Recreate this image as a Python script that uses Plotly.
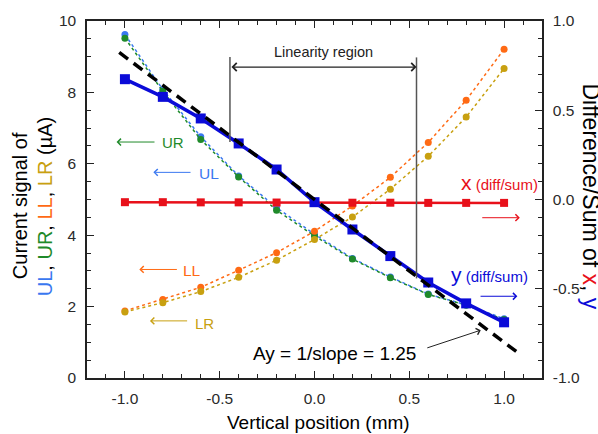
import plotly.graph_objects as go

# Vertical beam position scan (mm)
position = [-1.0, -0.8, -0.6, -0.4, -0.2, 0.0, 0.2, 0.4, 0.6, 0.8, 1.0]

# Electrode currents (uA)
ul_current = [9.62, 8.08, 6.76, 5.66, 4.77, 4.03, 3.35, 2.83, 2.35, 2.05, 1.66]
ur_current = [9.52, 8.03, 6.68, 5.63, 4.70, 3.98, 3.33, 2.81, 2.34, 2.04, 1.64]
ll_current = [1.88, 2.20, 2.54, 3.02, 3.51, 4.11, 4.82, 5.62, 6.60, 7.78, 9.21]
lr_current = [1.85, 2.11, 2.42, 2.82, 3.30, 3.88, 4.51, 5.29, 6.21, 7.31, 8.67]

# Normalised difference/sum signals
x_diff_sum = [-0.015, -0.015, -0.016, -0.016, -0.017, -0.017, -0.018, -0.018, -0.019, -0.019, -0.019]
y_diff_sum = [0.674, 0.575, 0.454, 0.314, 0.168, -0.015, -0.168, -0.317, -0.465, -0.582, -0.688]

# Linear fit through the central region: slope = 1/Ay
ay_factor = 1.25
fit_x = [-1.03, 1.09]
fit_y = [-xv / ay_factor for xv in fit_x]

# Linearity region limits (mm)
lin_left, lin_right = -0.446, 0.538

# Axis ticks
x_tick_vals = [-1.0, -0.5, 0.0, 0.5, 1.0]
x_tick_text = ["-1.0", "-0.5", "0.0", "0.5", "1.0"]
y2_tick_vals = [-1.0, -0.5, 0.0, 0.5, 1.0]
y2_tick_text = ["-1.0", "-0.5", "0.0", "0.5", "1.0"]

C_UL = "#3a78f0"
C_UR = "#1f8a2a"
C_LL = "#ff6a14"
C_LR = "#c8a010"
C_X = "#e8101a"
C_Y = "#0b0bd8"
FONT = "Liberation Sans, Arial, sans-serif"
TICK_COLOR = "#2a2a2a"

fig = go.Figure()

def dotted(yvals, color, name):
    fig.add_trace(go.Scatter(
        x=position, y=yvals, name=name, mode="lines+markers",
        line=dict(color=color, width=1.5, dash="dot"),
        marker=dict(color=color, size=7, symbol="circle"),
        yaxis="y"))

dotted(ul_current, C_UL, "UL")
dotted(ur_current, C_UR, "UR")
dotted(ll_current, C_LL, "LL")
dotted(lr_current, C_LR, "LR")

fig.add_trace(go.Scatter(
    x=position, y=x_diff_sum, name="x", mode="lines+markers",
    line=dict(color=C_X, width=2.5),
    marker=dict(color=C_X, size=8, symbol="square"),
    yaxis="y2"))
fig.add_trace(go.Scatter(
    x=position, y=y_diff_sum, name="y", mode="lines+markers",
    line=dict(color=C_Y, width=3.5),
    marker=dict(color=C_Y, size=10, symbol="square"),
    yaxis="y2"))
fig.add_trace(go.Scatter(
    x=fit_x, y=fit_y, name="fit", mode="lines",
    line=dict(color="black", width=3.5, dash="11px,7px"),
    yaxis="y2"))

# Linearity region boundaries
fig.add_shape(type="line", xref="x", yref="y", x0=lin_left, x1=lin_left,
              y0=8.99, y1=6.61, line=dict(color="#555", width=1.5))
fig.add_shape(type="line", xref="x", yref="y", x0=lin_right, x1=lin_right,
              y0=8.98, y1=2.79, line=dict(color="#555", width=1.5))

ann = []

def arrow(x_head, y_head, x_tail, y_tail, color, width=1.0, side="end"):
    ann.append(dict(x=x_head, y=y_head, ax=x_tail, ay=y_tail, xref="x", yref="y",
                    axref="x", ayref="y", text="", showarrow=True,
                    arrowhead=4, arrowsize=1.3, arrowwidth=width,
                    arrowcolor=color, arrowside=side))

def label(xv, yv, text, color, size, anchor="center"):
    ann.append(dict(x=xv, y=yv, xref="x", yref="y", text=text, showarrow=False,
                    font=dict(family=FONT, size=size, color=color),
                    xanchor=anchor, yanchor="middle"))

# Linearity region double arrow and label
arrow(lin_right, 8.71, lin_left, 8.71, "#222", 1.2, "end+start")
label(0.046, 9.13, "Linearity region", "#222", 14.5)

# Electrode labels pointing to the left axis
arrow(-1.044, 6.61, -0.836, 6.61, C_UR)
label(-0.745, 6.6, "UR", C_UR, 15)
arrow(-0.850, 5.76, -0.646, 5.76, C_UL)
label(-0.555, 5.72, "UL", C_UL, 15.5)
arrow(-0.924, 3.04, -0.718, 3.04, C_LL)
label(-0.646, 3.02, "LL", C_LL, 15.5)
arrow(-0.868, 1.60, -0.664, 1.60, C_LR)
label(-0.581, 1.54, "LR", C_LR, 15)

# Difference/sum labels pointing to the right axis
label(0.763, 5.49, "<span style='font-size:21px'>x</span> (diff/sum)", C_X, 15, "left")
arrow(1.083, 4.49, 0.877, 4.49, C_X)
label(0.710, 2.90, "<span style='font-size:21px'>y</span> (diff/sum)", C_Y, 15, "left")
arrow(1.070, 2.29, 0.868, 2.29, C_Y)

# Fit annotation
label(0.108, 0.70, "Ay = 1/slope = 1.25", "black", 19)
arrow(0.877, 1.34, 0.587, 0.83, "#222", 1.0)

# Left axis title, two lines
ann.append(dict(
    xref="paper", yref="paper", x=-0.1473, y=0.484, textangle=-90, showarrow=False,
    xanchor="center", yanchor="middle",
    font=dict(family=FONT, size=20, color="black"),
    text="Current signal of"))
ann.append(dict(
    xref="paper", yref="paper", x=-0.0924, y=0.481, textangle=-90, showarrow=False,
    xanchor="center", yanchor="middle",
    font=dict(family=FONT, size=20, color="black"),
    text=(f"<span style='color:{C_UL}'>UL</span>, "
          f"<span style='color:{C_UR}'>UR</span>, "
          f"<span style='color:{C_LL}'>LL</span>, "
          f"<span style='color:{C_LR}'>LR</span> (\u00b5A)")))

# Right axis title
ann.append(dict(
    xref="paper", yref="paper", x=1.108, y=0.508, textangle=90, showarrow=False,
    xanchor="center", yanchor="middle",
    font=dict(family=FONT, size=23, color="black"),
    text=(f"Difference/Sum of <span style='color:{C_X}'>x</span>, "
          f"<span style='color:{C_Y}'>y</span>")))

# Bottom axis title
ann.append(dict(
    xref="paper", yref="paper", x=0.508, y=-0.126, showarrow=False,
    xanchor="center", yanchor="middle",
    font=dict(family=FONT, size=19, color="black"),
    text="Vertical position (mm)"))

axis_common = dict(
    showline=True, linecolor="#222", linewidth=1.5, showgrid=False, zeroline=False,
    ticks="inside", ticklen=7, tickwidth=1.2, tickcolor="#222",
    tickfont=dict(family=FONT, size=15.5, color=TICK_COLOR),
)

fig.update_layout(
    width=598, height=434,
    margin=dict(l=87, r=56, t=21, b=56),
    paper_bgcolor="white", plot_bgcolor="white",
    showlegend=False,
    font=dict(family=FONT),
    xaxis=dict(
        range=[-1.2, 1.2], tickmode="array", tickvals=x_tick_vals, ticktext=x_tick_text,
        mirror="ticks",
        minor=dict(ticks="inside", ticklen=4, dtick=0.1, tick0=0, tickcolor="#222"),
        ticklabelstandoff=6,
        **axis_common),
    yaxis=dict(
        range=[0, 10], dtick=2, tick0=0,
        minor=dict(ticks="inside", ticklen=4, dtick=0.5, tick0=0, tickcolor="#222"),
        ticklabelstandoff=6,
        **axis_common),
    yaxis2=dict(
        range=[-1, 1], overlaying="y", side="right",
        tickmode="array", tickvals=y2_tick_vals, ticktext=y2_tick_text,
        minor=dict(ticks="inside", ticklen=4, dtick=0.1, tick0=0, tickcolor="#222"),
        ticklabelstandoff=6,
        **axis_common),
    annotations=ann,
)

fig.write_html("out.html")
